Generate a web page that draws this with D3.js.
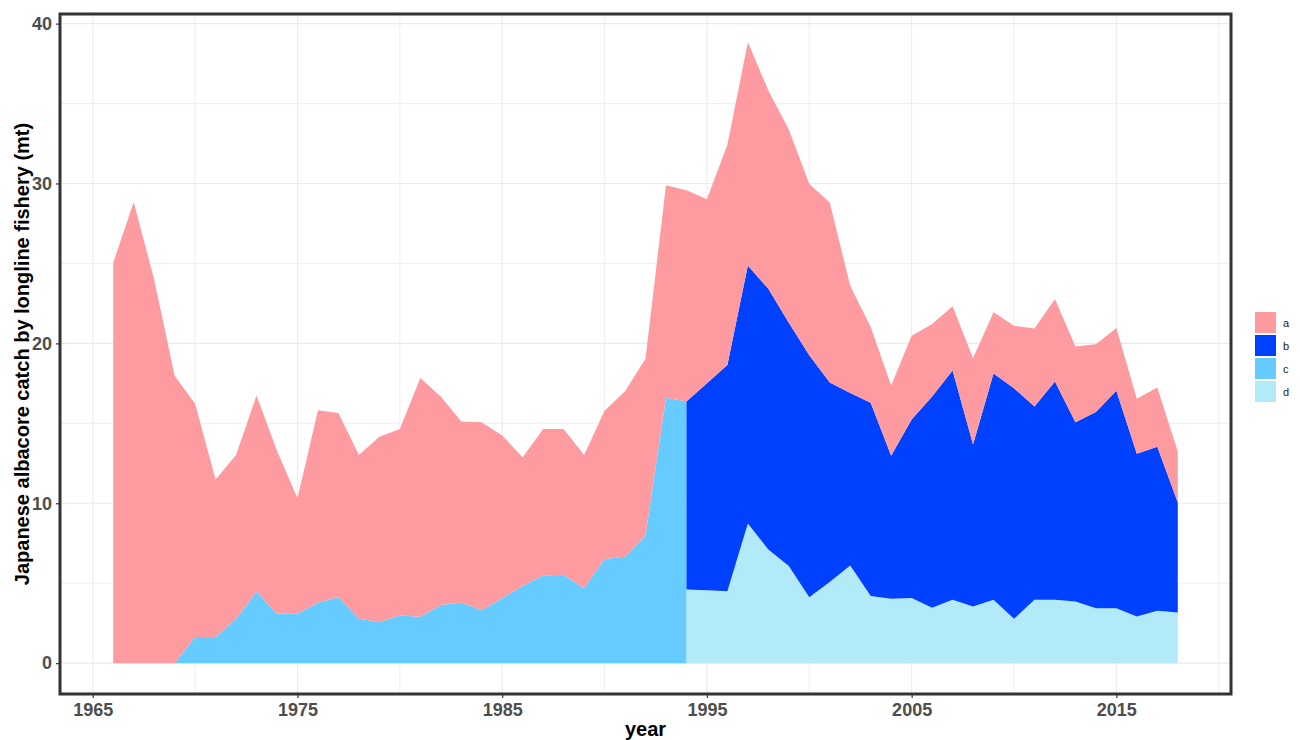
<!DOCTYPE html>
<html>
<head>
<meta charset="utf-8">
<script src="https://cdn.jsdelivr.net/npm/d3@7"></script>
<style>
  body { margin: 0; background: #fff; }
  svg { font-family: "Liberation Sans", Arial, sans-serif; }
</style>
</head>
<body>
<div id="chart"></div>
<script>
// years 1966 - 2018
const years = d3.range(1966, 2019);

// series values (mt), null where the fishery category has no data
const seriesA = [25.04, 28.84, 24.0, 17.98, 14.59, 9.85, 10.25, 12.27, 10.20, 7.22,
  12.01, 11.53, 10.25, 11.58, 11.67, 14.94, 13.04, 11.31, 11.75, 10.17,
  8.05, 9.17, 9.12, 8.33, 9.28, 10.36, 11.04, 13.29, 13.21, 11.52,
  13.78, 13.97, 12.40, 12.08, 10.71, 11.26, 6.70, 4.74, 4.39, 5.24,
  4.53, 4.01, 5.39, 3.82, 3.90, 4.88, 5.15, 4.74, 4.25, 3.93,
  3.44, 3.71, 3.20];
const seriesB = [null, null, null, null, null, null, null, null, null, null,
  null, null, null, null, null, null, null, null, null, null,
  null, null, null, null, null, null, null, null, 11.75, 12.94,
  14.14, 16.13, 16.30, 15.21, 15.14, 12.48, 10.80, 12.08, 8.95, 11.17,
  13.21, 14.35, 10.14, 14.16, 14.43, 12.09, 13.66, 11.22, 12.27, 13.60,
  10.18, 10.26, 6.88];
const seriesC = [0, 0, 0, 0, 1.63, 1.63, 2.77, 4.47, 3.09, 3.09,
  3.80, 4.12, 2.77, 2.58, 2.98, 2.90, 3.64, 3.80, 3.31, 4.07,
  4.83, 5.48, 5.53, 4.69, 6.51, 6.65, 8.00, 16.60, 16.36, null,
  null, null, null, null, null, null, null, null, null, null,
  null, null, null, null, null, null, null, null, null, null,
  null, null, null];
const seriesD = [null, null, null, null, null, null, null, null, null, null,
  null, null, null, null, null, null, null, null, null, null,
  null, null, null, null, null, null, null, null, 4.61, 4.56,
  4.50, 8.74, 7.11, 6.08, 4.12, 5.07, 6.10, 4.20, 4.02, 4.07,
  3.47, 3.96, 3.54, 3.96, 2.77, 3.96, 3.96, 3.85, 3.43, 3.43,
  2.91, 3.27, 3.16];

const categories = ["a", "b", "c", "d"];
const colors = { a: "#FD9BA1", b: "#0040FF", c: "#66CBFF", d: "#B3EAF8" };
const xTicks = [1965, 1975, 1985, 1995, 2005, 2015];
const yTicks = [0, 10, 20, 30, 40];

// build rows; where c and d/b overlap (1994) split into two rows so the
// categories switch over with a vertical edge
let rows = [];
years.forEach((yr, i) => {
  let r = { year: yr, a: seriesA[i], b: seriesB[i], c: seriesC[i], d: seriesD[i] };
  if (r.c != null && r.d != null) {
    rows.push({ year: yr, a: r.a, b: null, c: r.c, d: null });
    rows.push({ year: yr, a: r.a, b: r.b, c: null, d: r.d });
  } else {
    rows.push(r);
  }
});

const width = 1300, height = 740;
const margin = { left: 60, right: 69, top: 14, bottom: 46 };

const svg = d3.select("#chart").append("svg")
  .attr("width", width)
  .attr("height", height);

const x = d3.scaleLinear().domain([1963.4, 2020.6]).range([margin.left, width - margin.right]);
const y = d3.scaleLinear().domain([-1.93, 40.6]).range([height - margin.bottom, margin.top]);

// grid (major + minor)
const grid = svg.append("g");
d3.range(1965, 2021, 5).forEach(v => {
  grid.append("line")
    .attr("x1", x(v)).attr("x2", x(v))
    .attr("y1", margin.top).attr("y2", height - margin.bottom)
    .attr("stroke", "#EBEBEB").attr("stroke-width", v % 10 === 5 ? 1.1 : 0.8);
});
d3.range(0, 41, 5).forEach(v => {
  grid.append("line")
    .attr("x1", margin.left).attr("x2", width - margin.right)
    .attr("y1", y(v)).attr("y2", y(v))
    .attr("stroke", "#EBEBEB").attr("stroke-width", v % 10 === 0 ? 1.1 : 0.8);
});

// stacked areas, bottom to top: d, c, b, a
const stack = d3.stack()
  .keys(["d", "c", "b", "a"])
  .value((d, k) => d[k] == null ? 0 : d[k]);
const layers = stack(rows);

const area = d3.area()
  .x(p => x(p.data.year))
  .y0(p => y(p[0]))
  .y1(p => y(p[1]));

svg.append("g").selectAll("path")
  .data(layers)
  .enter()
  .append("path")
  .attr("d", l => area(l.filter(p => p.data[l.key] != null)))
  .attr("fill", l => colors[l.key]);

// axes
const xAxis = svg.append("g")
  .attr("transform", `translate(0,${height - margin.bottom})`)
  .call(d3.axisBottom(x).tickValues(xTicks).tickFormat(d3.format("d")).tickSizeOuter(0).tickSize(4).tickPadding(5));
const yAxis = svg.append("g")
  .attr("transform", `translate(${margin.left},0)`)
  .call(d3.axisLeft(y).tickValues(yTicks).tickSizeOuter(0).tickSize(4).tickPadding(4));

[xAxis, yAxis].forEach(ax => {
  ax.select(".domain").remove();
  ax.selectAll(".tick line").attr("stroke", "#333").attr("stroke-width", 1.2);
  ax.selectAll(".tick text")
    .attr("fill", "#4D4D4D")
    .style("font-size", "18px")
    .style("font-weight", "bold")
    .style("font-family", "'Liberation Sans', Arial, sans-serif");
});

// panel border
svg.append("rect")
  .attr("x", margin.left).attr("y", margin.top)
  .attr("width", width - margin.left - margin.right)
  .attr("height", height - margin.top - margin.bottom)
  .attr("fill", "none")
  .attr("stroke", "#333")
  .attr("stroke-width", 3);

// axis titles
svg.append("text")
  .attr("x", (margin.left + width - margin.right) / 2)
  .attr("y", 736)
  .attr("text-anchor", "middle")
  .style("font-size", "20px")
  .style("font-weight", "bold")
  .text("year");

svg.append("text")
  .attr("transform", `translate(29,${(margin.top + height - margin.bottom) / 2}) rotate(-90)`)
  .attr("text-anchor", "middle")
  .style("font-size", "20px")
  .style("font-weight", "bold")
  .text("Japanese albacore catch by longline fishery (mt)");

// legend
const legend = svg.append("g").attr("transform", "translate(1255,312)");
categories.forEach((c, i) => {
  let g = legend.append("g").attr("transform", `translate(0,${i * 23})`);
  g.append("rect")
    .attr("width", 21).attr("height", 21)
    .attr("fill", colors[c]);
  g.append("text")
    .attr("x", 28).attr("y", 15)
    .style("font-size", "11px")
    .attr("fill", "#1A1A1A")
    .text(c);
});
</script>
</body>
</html>
